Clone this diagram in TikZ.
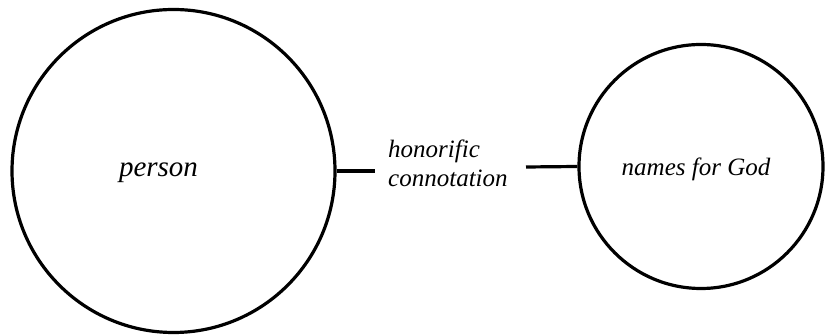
\documentclass[tikz,border=0pt]{standalone}
\usepackage{fontspec}
\setmainfont{Liberation Serif}[ItalicFont={Liberation Serif Italic}]
\begin{document}
\begin{tikzpicture}[x=1pt,y=1pt,
  ring/.style={draw=black,line width=3.2pt,circle,inner sep=0pt},
  link/.style={draw=black,line width=3.2pt},
  lbl/.style={font=\rmfamily\itshape\fontsize{25}{29}\selectfont,inner sep=0pt}]
\useasboundingbox (0,0) rectangle (825,336);
\node[ring,minimum size=323pt] (big) at (173.5,165) {};
\node[ring,minimum size=244pt] (small) at (701,169.5) {};
\node[lbl,font=\rmfamily\itshape\fontsize{29}{34}\selectfont,anchor=base] (person) at (158.5,159) {person};
\node[lbl,anchor=base] (god) at (696,160) {names for God};
\node[lbl,align=left,anchor=north west] (conn) at (388,196) {honorific\\connotation};
\coordinate (lend) at (375,165);
\coordinate (rstart) at (526,169);
\draw[link] (big.east) -- (lend);
\draw[link] (rstart) -- (small.west);
\end{tikzpicture}
\end{document}
